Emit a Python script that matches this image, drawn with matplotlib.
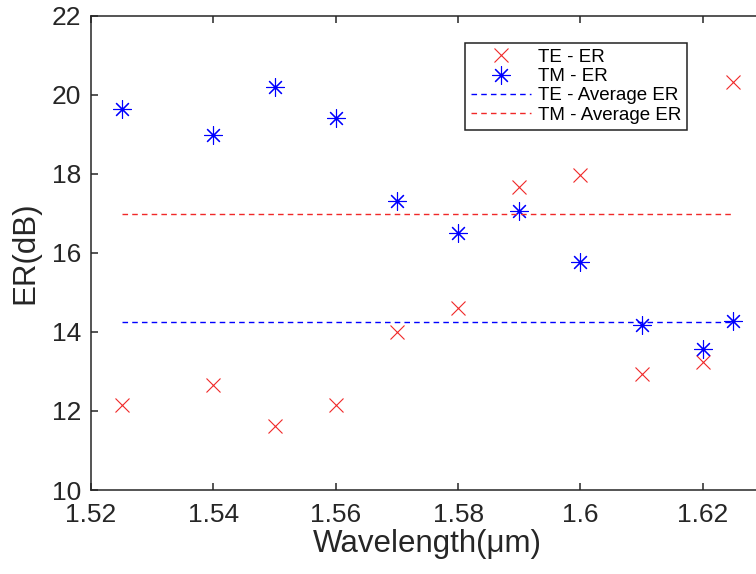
import matplotlib
matplotlib.use("Agg")
import matplotlib.pyplot as plt
from matplotlib.ticker import FuncFormatter

plt.rcParams["font.family"] = ["Liberation Sans", "DejaVu Sans"]

# wavelengths (um)
wavelength = [1.525, 1.54, 1.55, 1.56, 1.57, 1.58, 1.59, 1.60, 1.61, 1.62, 1.625]
te_er = [12.14, 12.65, 11.61, 12.16, 13.99, 14.61, 17.67, 17.96, 12.94, 13.24, 20.32]
tm_er = [19.63, 18.99, 20.18, 19.42, 17.31, 16.50, 17.06, 15.77, 14.18, 13.57, 14.27]

# average lines as drawn in the figure
avg_x = [1.525, 1.625]
te_avg = 14.25
tm_avg = 16.99

x_ticks = [1.52, 1.54, 1.56, 1.58, 1.60, 1.62]
y_ticks = [10, 12, 14, 16, 18, 20, 22]

fig = plt.figure(figsize=(7.56, 5.74), dpi=100)
# axes run past the right edge (the original picture is cropped)
ax = fig.add_axes([91 / 756, 84 / 574, 673 / 756, 474.5 / 574])

ax.plot(wavelength, te_er, linestyle="none", marker="x", color="#f02828",
        markersize=10.5, markeredgewidth=0.8, label="TE - ER")
ax.plot(wavelength, tm_er, linestyle="none", marker=(8, 2, 0), color="#0000ff",
        markersize=13, markeredgewidth=0.8, label="TM - ER")
ax.plot(avg_x, [te_avg, te_avg], color="#0000ff", linestyle=(0, (4, 3)),
        linewidth=1.0, label="TE - Average ER")
ax.plot(avg_x, [tm_avg, tm_avg], color="#f02828", linestyle=(0, (4, 3)),
        linewidth=1.0, label="TM - Average ER")

ax.set_xlim(1.52, 1.63)
ax.set_ylim(10, 22)
ax.set_xticks(x_ticks)
ax.set_yticks(y_ticks)
ax.xaxis.set_major_formatter(FuncFormatter(lambda v, p: f"{v:g}"))

gray = "#262626"
for s in ax.spines.values():
    s.set_color(gray)
    s.set_linewidth(1.1)
ax.tick_params(axis="both", direction="in", length=5, width=1.1, colors=gray,
               labelsize=19, top=True, right=True)
ax.tick_params(axis="x", pad=9)
ax.tick_params(axis="y", pad=7)

ax.set_xlabel("Wavelength(μm)", fontsize=22.5, color=gray, labelpad=2)
ax.set_ylabel("ER(dB)", fontsize=22.5, color=gray, labelpad=8)

leg = ax.legend(loc="upper left", bbox_to_anchor=(465 / 756, 1 - 43 / 574),
                bbox_transform=fig.transFigure, borderaxespad=0, fontsize=13.5,
                fancybox=False, framealpha=1, edgecolor="#222222",
                handlelength=3.2, handletextpad=0.4, labelspacing=0.12,
                borderpad=0.3)
leg.get_frame().set_linewidth(1.1)

fig.savefig("out.png", dpi=100)
